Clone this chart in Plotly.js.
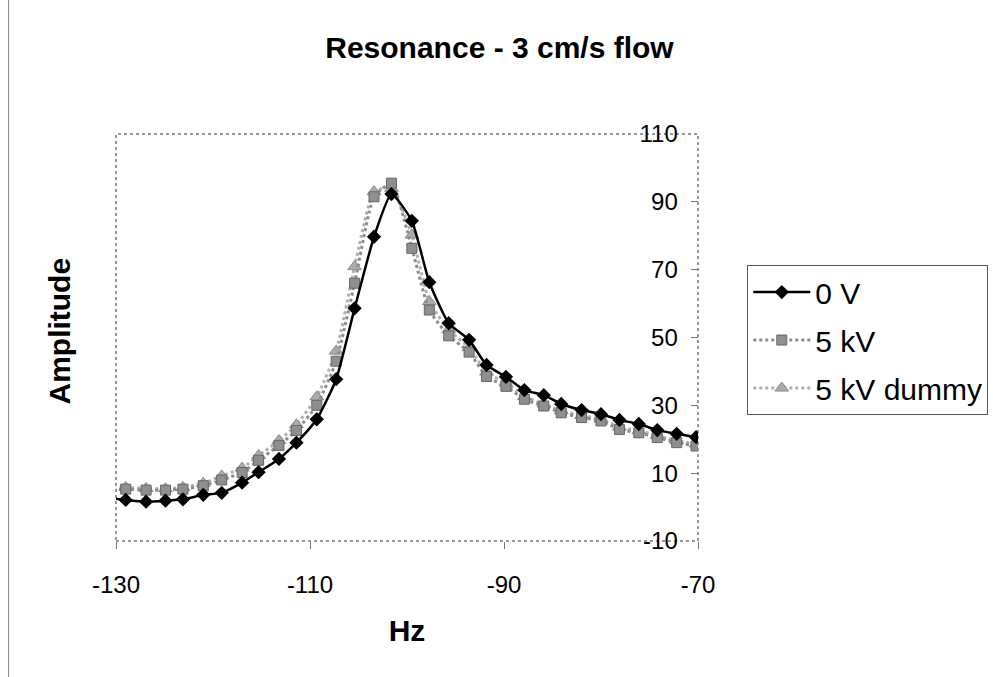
<!DOCTYPE html>
<html>
<head>
<meta charset="utf-8">
<script src="https://cdn.plot.ly/plotly-3.0.1.min.js"></script>
<style>
html,body{margin:0;padding:0;background:#fff;}
#chart{width:993px;height:677px;}
</style>
</head>
<body>
<div id="chart"></div>
<script>
// Frequency (Hz)
const hz = [-130.9, -129.0, -126.9, -124.9, -123.1, -121.0, -119.1, -117.0, -115.3, -113.2, -111.4, -109.3, -107.3, -105.4, -103.4, -101.6, -99.5, -97.7, -95.7, -93.6, -91.8, -89.8, -87.9, -85.9, -84.1, -82.0, -80.0, -78.1, -76.1, -74.2, -72.2, -70.2];
// Amplitudes
const amp0V = [2.8, 2.1, 1.6, 1.9, 2.3, 3.6, 4.2, 7.2, 10.3, 14.2, 19.0, 25.9, 37.7, 58.6, 79.7, 92.3, 84.4, 66.3, 54.2, 49.3, 41.9, 38.4, 34.5, 33.0, 30.4, 28.6, 27.4, 25.7, 24.5, 22.7, 21.6, 20.6];
const amp5kV = [4.8, 5.3, 5.0, 5.0, 5.3, 6.3, 8.0, 10.2, 13.8, 18.2, 22.6, 30.0, 43.0, 66.0, 91.5, 95.5, 76.3, 58.1, 50.5, 45.7, 38.5, 35.6, 31.8, 29.8, 27.8, 26.4, 25.4, 22.9, 21.9, 20.5, 19.0, 18.0];
const amp5kVDummy = [5.3, 5.8, 5.5, 5.4, 5.8, 7.0, 9.2, 11.5, 15.2, 19.6, 24.3, 32.5, 46.0, 70.9, 93.0, 94.0, 80.2, 60.6, 52.3, 47.0, 39.8, 36.6, 32.6, 30.4, 28.4, 27.0, 25.9, 23.6, 22.5, 21.1, 19.6, 18.6];
const seriesNames = ['0 V', '5 kV', '5 kV dummy'];
const xTicks = [-130, -110, -90, -70];
const yTicks = [-10, 10, 30, 50, 70, 90, 110];

const FONT = 'Liberation Sans, Arial, sans-serif';

const traces = [
  {x: hz, y: amp5kVDummy, name: seriesNames[2], legendgroup: 'c', legendrank: 3,
   mode: 'lines+markers', line: {color: '#b0b0b0', width: 3, dash: 'dot', shape: 'spline', smoothing: 0.5},
   marker: {symbol: 'triangle-up', size: 12, color: '#ababab', line: {color: '#8a8a8a', width: 1}}},
  {x: hz, y: amp5kV, name: seriesNames[1], legendgroup: 'b', legendrank: 2,
   mode: 'lines+markers', line: {color: '#8c8c8c', width: 3, dash: 'dot', shape: 'spline', smoothing: 0.5},
   marker: {symbol: 'square', size: 10, color: '#8f8f8f', line: {color: '#666', width: 1}}},
  {x: hz, y: amp0V, name: seriesNames[0], legendgroup: 'a', legendrank: 1,
   mode: 'lines+markers', line: {color: '#000', width: 2.5, shape: 'spline', smoothing: 0.5},
   marker: {symbol: 'diamond', size: 11, color: '#000'}}
];

const layout = {
  width: 993, height: 677,
  margin: {l: 115.5, r: 295, t: 134, b: 136, pad: 0, autoexpand: false},
  paper_bgcolor: '#fff', plot_bgcolor: '#fff',
  font: {family: FONT, color: '#000'},
  showlegend: true,
  title: {text: '<b>Resonance - 3 cm/s flow</b>', font: {family: FONT, size: 30, color: '#000'},
          x: 0.503, xanchor: 'center', xref: 'container', y: 0.93, yanchor: 'middle'},
  xaxis: {range: [-130.0001, -69.9999], tickvals: xTicks, ticktext: xTicks.map(String),
          ticks: 'outside', ticklen: 7, tickcolor: '#777', tickwidth: 1,
          showgrid: false, zeroline: false, showline: false, ticklabeloverflow: 'allow',
          tickfont: {family: FONT, size: 24, color: '#000'}, ticklabelstandoff: 15,
          title: {text: '<b>Hz</b>', font: {family: FONT, size: 30, color: '#000'}, standoff: 23}},
  yaxis: {range: [-10.0001, 110.0001], tickvals: yTicks, ticktext: yTicks.map(String), side: 'right',
          ticks: 'inside', ticklen: 7, tickcolor: '#777', tickwidth: 1,
          ticklabelposition: 'inside', ticklabelstandoff: 15, ticklabeloverflow: 'allow',
          showgrid: false, zeroline: false, showline: false,
          tickfont: {family: FONT, size: 24, color: '#000'}},
  legend: {x: 1.0847, y: 0.678, xanchor: 'left', yanchor: 'top',
           bordercolor: '#555', borderwidth: 1, bgcolor: '#fff',
           font: {family: FONT, size: 30, color: '#000'},
           traceorder: 'grouped', tracegroupgap: 6, itemwidth: 57, valign: 'middle'},
  shapes: [
    {type: 'rect', xref: 'paper', yref: 'paper', x0: 0, x1: 1, y0: 0, y1: 1,
     line: {color: '#777', width: 1.5, dash: 'dot'}, layer: 'below'},
    {type: 'line', xref: 'paper', yref: 'paper', x0: -0.1846, x1: -0.1846, y0: -0.4, y1: 1.4,
     line: {color: '#888', width: 1}}
  ],
  annotations: [
    {text: '<b>Amplitude</b>', xref: 'paper', yref: 'paper', x: -0.097, y: 0.516,
     xanchor: 'center', yanchor: 'middle', textangle: -90, showarrow: false,
     font: {family: FONT, size: 30, color: '#000'}}
  ]
};

Plotly.newPlot('chart', traces, layout, {displayModeBar: false, staticPlot: true});
</script>
</body>
</html>
